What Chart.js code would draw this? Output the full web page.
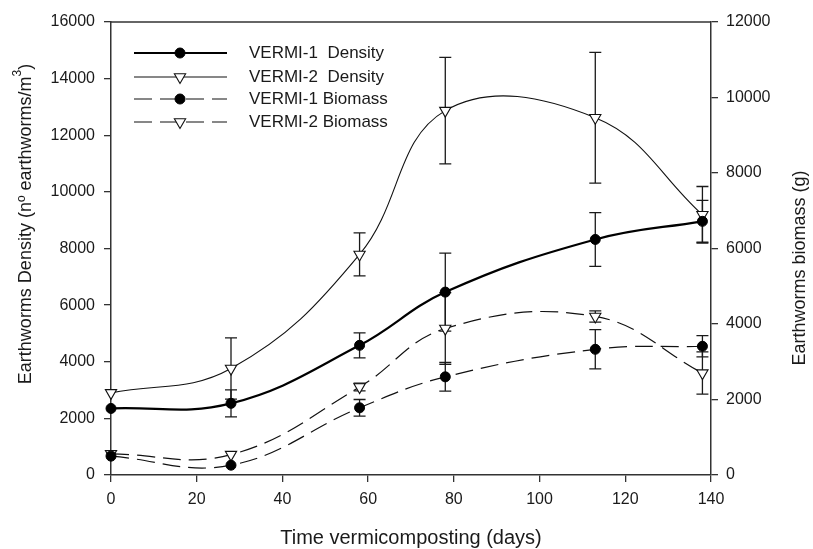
<!DOCTYPE html>
<html>
<head>
<meta charset="utf-8">
<title>Earthworms density and biomass</title>
<script src="https://cdn.jsdelivr.net/npm/chart.js@4.4.1/dist/chart.umd.min.js"></script>
<style>
  html, body { margin: 0; padding: 0; background: #fff; }
  #wrap { width: 813px; height: 549px; }
</style>
</head>
<body>
<div id="wrap"><canvas id="wormChart"></canvas></div>
<script>
// sampling days
const days = [0, 28, 58, 78, 113, 138];

// density, left axis (earthworms/m3)
const vermi1Density    = [2350, 2530, 4580, 6460, 8320, 8960];
const vermi1DensityErr = [0, 480, 440, 1380, 950, 740];
const vermi2Density    = [2900, 3760, 7790, 12870, 12620, 9190];
const vermi2DensityErr = [0, 1080, 760, 1880, 2310, 1000];

// biomass, right axis (g)
const vermi1Biomass    = [500, 260, 1780, 2600, 3330, 3410];
const vermi1BiomassErr = [0, 0, 220, 380, 520, 280];
const vermi2Biomass    = [560, 540, 2330, 3880, 4200, 2700];
const vermi2BiomassErr = [0, 0, 100, 950, 150, 560];

const seriesNames = ['VERMI-1  Density', 'VERMI-2  Density', 'VERMI-1 Biomass', 'VERMI-2 Biomass'];

const xTitle = 'Time vermicomposting (days)';
const yTitle = 'Earthworms Density (n\u00ba earthworms/m';
const y1Title = 'Earthworms biomass (g)';

const ink = '#1a1a1a';
const axisInk = '#333';
const fontFamily = "'Liberation Sans', Arial, Helvetica, sans-serif";

function toPoints(vals) {
    return days.map((d, i) => ({ x: d, y: vals[i] }));
}

// vertical error bars, drawn under the markers
const errorBars = {
    id: 'errorBars',
    beforeDatasetsDraw(chart) {
        const ctx = chart.ctx;
        const xs = chart.scales.x;
        ctx.save();
        ctx.strokeStyle = ink;
        ctx.lineWidth = 1.3;
        ctx.setLineDash([]);
        chart.data.datasets.forEach(ds => {
            const ys = chart.scales[ds.yAxisID];
            ds.errors.forEach((e, j) => {
                if (!e) return;
                const px = xs.getPixelForValue(ds.data[j].x);
                const top = ys.getPixelForValue(ds.data[j].y + e);
                const bot = ys.getPixelForValue(ds.data[j].y - e);
                ctx.beginPath();
                ctx.moveTo(px, top); ctx.lineTo(px, bot);
                ctx.moveTo(px - 6, top); ctx.lineTo(px + 6, top);
                ctx.moveTo(px - 6, bot); ctx.lineTo(px + 6, bot);
                ctx.stroke();
            });
        });
        ctx.restore();
    }
};

function drawMarker(ctx, ds, x, y) {
    ctx.save();
    ctx.setLineDash([]);
    ctx.lineWidth = ds.pointBorderWidth;
    ctx.strokeStyle = ds.pointBorderColor;
    ctx.fillStyle = ds.pointBackgroundColor;
    ctx.beginPath();
    if (ds.pointStyle === 'triangle') {
        const r = ds.pointRadius;
        ctx.moveTo(x, y + r);
        ctx.lineTo(x - r * 0.866, y - r * 0.5);
        ctx.lineTo(x + r * 0.866, y - r * 0.5);
        ctx.closePath();
    } else {
        ctx.arc(x, y, ds.pointRadius, 0, Math.PI * 2);
    }
    ctx.fill();
    ctx.stroke();
    ctx.restore();
}

// frame top line, legend box inside plot and the axis titles
const extras = {
    id: 'extras',
    afterDraw(chart) {
        const ctx = chart.ctx;
        const area = chart.chartArea;
        ctx.save();

        // top frame line
        ctx.strokeStyle = axisInk;
        ctx.lineWidth = 1.5;
        ctx.beginPath();
        ctx.moveTo(area.left, area.top);
        ctx.lineTo(area.right, area.top);
        ctx.stroke();

        // legend
        const rowsY = [53, 77, 99, 122];
        chart.data.datasets.forEach((ds, i) => {
            const y = rowsY[i];
            ctx.strokeStyle = ds.borderColor;
            ctx.lineWidth = ds.borderWidth;
            ctx.setLineDash(ds.borderDash || []);
            ctx.beginPath();
            ctx.moveTo(134, y);
            ctx.lineTo(227, y);
            ctx.stroke();
            drawMarker(ctx, ds, 180, y);
            ctx.setLineDash([]);
            ctx.fillStyle = ink;
            ctx.font = '17px ' + fontFamily;
            ctx.textAlign = 'left';
            ctx.textBaseline = 'middle';
            ctx.fillText(ds.label, 249, y);
        });

        // axis titles
        ctx.fillStyle = ink;
        ctx.textBaseline = 'middle';
        ctx.font = '20px ' + fontFamily;
        ctx.textAlign = 'center';
        ctx.fillText(xTitle, (area.left + area.right) / 2, 538);

        // left title with superscript 3
        ctx.font = '18px ' + fontFamily;
        ctx.save();
        ctx.translate(26, 224);
        ctx.rotate(-Math.PI / 2);
        const w1 = ctx.measureText(yTitle).width;
        ctx.font = '12px ' + fontFamily;
        const w2 = ctx.measureText('3').width;
        ctx.font = '18px ' + fontFamily;
        const w3 = ctx.measureText(')').width;
        let sx = -(w1 + w2 + w3) / 2;
        ctx.textAlign = 'left';
        ctx.fillText(yTitle, sx, 0);
        ctx.font = '12px ' + fontFamily;
        ctx.fillText('3', sx + w1, -8);
        ctx.font = '18px ' + fontFamily;
        ctx.fillText(')', sx + w1 + w2, 0);
        ctx.restore();

        ctx.save();
        ctx.translate(800, 268);
        ctx.rotate(-Math.PI / 2);
        ctx.textAlign = 'center';
        ctx.fillText(y1Title, 0, 0);
        ctx.restore();

        ctx.restore();
    }
};

const tickFont = { family: fontFamily, size: 16 };
const plainTick = v => String(v);
const gridStyle = { drawOnChartArea: false, drawTicks: true, tickLength: 7, color: axisInk, lineWidth: 1.3 };
const borderStyle = { display: true, color: axisInk, width: 1.5 };

const ctx = document.getElementById('wormChart').getContext('2d');
const wormChart = new Chart(ctx, {
    type: 'line',
    data: {
        datasets: [
            {
                label: seriesNames[0],
                data: toPoints(vermi1Density),
                errors: vermi1DensityErr,
                yAxisID: 'y',
                borderColor: '#000',
                borderWidth: 2.2,
                pointStyle: 'circle',
                pointRadius: 5,
                pointBackgroundColor: '#000',
                pointBorderColor: '#000',
                pointBorderWidth: 1
            },
            {
                label: seriesNames[1],
                data: toPoints(vermi2Density),
                errors: vermi2DensityErr,
                yAxisID: 'y',
                borderColor: '#111',
                borderWidth: 1.1,
                pointStyle: 'triangle',
                pointRotation: 180,
                pointRadius: 6.5,
                pointBackgroundColor: '#fff',
                pointBorderColor: '#111',
                pointBorderWidth: 1.1
            },
            {
                label: seriesNames[2],
                data: toPoints(vermi1Biomass),
                errors: vermi1BiomassErr,
                yAxisID: 'y1',
                borderColor: '#111',
                borderWidth: 1.2,
                borderDash: [18, 8],
                pointStyle: 'circle',
                pointRadius: 5,
                pointBackgroundColor: '#000',
                pointBorderColor: '#000',
                pointBorderWidth: 1
            },
            {
                label: seriesNames[3],
                data: toPoints(vermi2Biomass),
                errors: vermi2BiomassErr,
                yAxisID: 'y1',
                borderColor: '#111',
                borderWidth: 1.2,
                borderDash: [18, 8],
                pointStyle: 'triangle',
                pointRotation: 180,
                pointRadius: 6.5,
                pointBackgroundColor: '#fff',
                pointBorderColor: '#111',
                pointBorderWidth: 1.1
            }
        ]
    },
    options: {
        responsive: true,
        maintainAspectRatio: false,
        animation: false,
        layout: { padding: { top: 22, left: 0, right: 0, bottom: 0 } },
        elements: { line: { tension: 0.4, fill: false } },
        datasets: { line: { clip: false } },
        plugins: {
            legend: { display: false },
            tooltip: { enabled: false }
        },
        scales: {
            x: {
                type: 'linear',
                min: 0,
                max: 140,
                ticks: { stepSize: 20, padding: 8, color: ink, font: tickFont, callback: plainTick },
                grid: gridStyle,
                border: borderStyle,
                afterFit(scale) { scale.height = 74; }
            },
            y: {
                position: 'left',
                min: 0,
                max: 16000,
                ticks: { stepSize: 2000, padding: 9, color: ink, font: tickFont, callback: plainTick },
                grid: gridStyle,
                border: borderStyle,
                afterFit(scale) { scale.width = 111; }
            },
            y1: {
                position: 'right',
                min: 0,
                max: 12000,
                ticks: { stepSize: 2000, padding: 8, color: ink, font: tickFont, callback: plainTick },
                grid: gridStyle,
                border: borderStyle,
                afterFit(scale) { scale.width = 102; }
            }
        }
    },
    plugins: [errorBars, extras]
});
</script>
</body>
</html>
